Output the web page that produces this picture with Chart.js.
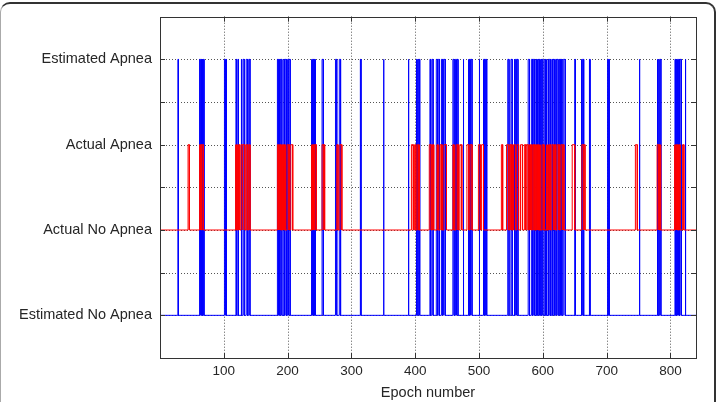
<!DOCTYPE html>
<html>
<head>
<meta charset="utf-8">
<script src="https://cdn.jsdelivr.net/npm/chart.js@4/dist/chart.umd.min.js"></script>
<style>
    html, body { margin: 0; padding: 0; background: #fff; }
    #wrap { position: relative; width: 717px; height: 402px; overflow: hidden; background: #fff; }
    #frame {
        position: absolute; left: 0; top: 2px; width: 713px; height: 440px;
        border-top: 2px solid #333; border-right: 2px solid #333; border-left: 1px solid #aaa;
        border-radius: 10px;
    }
    #apneaChart { position: absolute; left: 0; top: 0; }
</style>
</head>
<body>
<div id="wrap">
    <div id="frame"></div>
    <canvas id="apneaChart" width="717" height="402"></canvas>
</div>
<script>
/**
 * Estimated vs actual apnea per epoch
 */

// axis setup
const xMin = 0;
const xMax = 840;
const xTickValues = [100, 200, 300, 400, 500, 600, 700, 800];
const yTickValues = [1, 2, 3, 4, 5, 6, 7];
const levelValues = [1, 3, 5, 7];
const levelLabels = ['Estimated No Apnea', 'Actual No Apnea', 'Actual Apnea', 'Estimated Apnea'];
const xTitle = 'Epoch number';

// estimated signal: 1 = no apnea, 7 = apnea (epoch where each apnea run starts / ends)
const estLow = 1, estHigh = 7;
const estApneaStart = [28, 62, 64, 66, 68, 101, 103, 119, 122, 127, 130, 135, 139,
    184, 186, 189, 194, 196, 200, 202, 237, 239, 241, 243, 254, 275, 281, 314, 350, 389,
    402, 405, 423, 426, 433, 436, 441, 443, 445, 459, 463, 465, 475, 483, 485, 487, 500, 507, 510,
    545, 550, 555, 557, 559, 577, 582, 585, 589, 591, 593, 596, 598,
    603, 605, 608, 610, 614, 616, 620, 622, 626, 629, 632, 650, 660, 662, 673, 701, 703, 751,
    779, 781, 783, 807, 809, 811, 813, 815, 823];
const estApneaEnd = [29, 63, 65, 67, 69, 102, 104, 120, 123, 128, 132, 137, 141,
    185, 187, 191, 195, 198, 201, 204, 238, 240, 242, 244, 256, 277, 283, 315, 351, 390,
    403, 407, 424, 428, 435, 438, 442, 444, 447, 461, 464, 467, 476, 484, 486, 489, 501, 509, 512,
    547, 552, 556, 558, 561, 579, 584, 587, 590, 592, 595, 597, 600,
    604, 606, 609, 612, 615, 618, 621, 624, 628, 630, 635, 651, 661, 664, 674, 702, 704, 752,
    780, 782, 785, 808, 810, 812, 814, 817, 824];

// actual signal: 3 = no apnea, 5 = apnea
const actLow = 3, actHigh = 5;
const actApneaStart = [44, 62, 64, 66, 118, 120, 123, 127, 130, 135, 139,
    184, 186, 188, 190, 192, 194, 196, 199, 202, 205, 237, 239, 241, 243, 254, 257, 277, 282,
    394, 399, 403, 406, 422, 427, 434, 436, 439, 442, 445, 459, 461, 464, 467, 470, 481, 486, 499, 504, 535,
    543, 548, 551, 554, 559, 565, 571, 574, 579, 581, 584, 587, 590, 592, 594, 596, 599, 602,
    605, 607, 609, 611, 614, 617, 619, 622, 625, 628, 631, 646, 661, 664, 745,
    779, 782, 784, 806, 808, 810, 812, 814, 819];
const actApneaEnd = [46, 63, 65, 68, 119, 121, 125, 129, 133, 137, 141,
    185, 187, 189, 191, 193, 195, 197, 201, 203, 208, 238, 240, 242, 245, 256, 258, 279, 285,
    397, 401, 405, 407, 425, 429, 435, 437, 441, 443, 449, 460, 462, 466, 468, 473, 484, 489, 502, 507, 537,
    546, 550, 552, 557, 562, 568, 573, 577, 580, 582, 586, 588, 591, 593, 595, 597, 601, 603,
    606, 608, 610, 612, 616, 618, 620, 624, 626, 630, 633, 650, 663, 666, 748,
    781, 783, 785, 807, 809, 811, 813, 815, 821];

function pulseLine(starts, ends, lo, hi) {
    const pts = [{ x: xMin, y: lo }];
    starts.forEach((s, i) => {
        pts.push({ x: s, y: lo }, { x: s, y: hi }, { x: ends[i], y: hi }, { x: ends[i], y: lo });
    });
    pts.push({ x: xMax, y: lo });
    return pts;
}

const axisColor = '#333';
const textColor = '#262626';
const fontFamily = "'Liberation Sans', Arial, sans-serif";

// grid, box and inward tick marks, matlab style
const matlabAxes = {
    id: 'matlabAxes',
    beforeDatasetsDraw(chart) {
        const { ctx, chartArea: a, scales: { x, y } } = chart;
        ctx.save();
        ctx.strokeStyle = '#555';
        ctx.lineWidth = 1;
        ctx.setLineDash([1, 2]);
        xTickValues.forEach(v => {
            const px = Math.round(x.getPixelForValue(v)) + 0.5;
            ctx.beginPath(); ctx.moveTo(px, a.top); ctx.lineTo(px, a.bottom); ctx.stroke();
        });
        yTickValues.forEach(v => {
            const py = Math.round(y.getPixelForValue(v)) + 0.5;
            ctx.beginPath(); ctx.moveTo(a.left, py); ctx.lineTo(a.right, py); ctx.stroke();
        });
        ctx.restore();
    },
    afterDatasetsDraw(chart) {
        const { ctx, chartArea: a, scales: { x, y } } = chart;
        const t = 5;
        ctx.save();
        ctx.strokeStyle = axisColor;
        ctx.lineWidth = 1;
        ctx.strokeRect(Math.round(a.left) + 0.5, Math.round(a.top) + 0.5,
            Math.round(a.right - a.left), Math.round(a.bottom - a.top));
        ctx.beginPath();
        xTickValues.forEach(v => {
            const px = Math.round(x.getPixelForValue(v)) + 0.5;
            ctx.moveTo(px, a.bottom); ctx.lineTo(px, a.bottom - t);
            ctx.moveTo(px, a.top); ctx.lineTo(px, a.top + t);
        });
        yTickValues.forEach(v => {
            const py = Math.round(y.getPixelForValue(v)) + 0.5;
            ctx.moveTo(a.left, py); ctx.lineTo(a.left + t, py);
            ctx.moveTo(a.right, py); ctx.lineTo(a.right - t, py);
        });
        ctx.stroke();
        ctx.restore();
    }
};

new Chart(document.getElementById('apneaChart'), {
    type: 'line',
    data: {
        datasets: [{
            label: 'Actual',
            data: pulseLine(actApneaStart, actApneaEnd, actLow, actHigh),
            borderColor: '#ff0000',
            borderWidth: 1,
            pointRadius: 0,
            tension: 0,
            fill: false
        }, {
            label: 'Estimated',
            data: pulseLine(estApneaStart, estApneaEnd, estLow, estHigh),
            borderColor: '#0000ff',
            borderWidth: 1,
            pointRadius: 0,
            tension: 0,
            fill: false
        }]
    },
    options: {
        responsive: false,
        animation: false,
        events: [],
        layout: { autoPadding: false, padding: { left: 0, top: 16, right: 21, bottom: 0 } },
        plugins: {
            legend: { display: false },
            tooltip: { enabled: false }
        },
        scales: {
            x: {
                type: 'linear',
                min: xMin,
                max: xMax,
                afterBuildTicks: scale => { scale.ticks = xTickValues.map(v => ({ value: v })); },
                afterFit: scale => { scale.height = 44; },
                grid: { display: false, drawTicks: false },
                border: { display: false },
                ticks: {
                    padding: 5,
                    maxRotation: 0,
                    color: textColor,
                    font: { family: fontFamily, size: 13.5 }
                },
                title: {
                    display: true,
                    text: xTitle,
                    color: textColor,
                    padding: { top: 0, bottom: 0 },
                    font: { family: fontFamily, size: 14.5 }
                }
            },
            y: {
                type: 'linear',
                min: 0,
                max: 8,
                afterBuildTicks: scale => { scale.ticks = yTickValues.map(v => ({ value: v })); },
                afterFit: scale => { scale.width = 160; },
                grid: { display: false, drawTicks: false },
                border: { display: false },
                ticks: {
                    padding: 8,
                    color: textColor,
                    font: { family: fontFamily, size: 14.5 },
                    callback: v => {
                        const i = levelValues.indexOf(v);
                        return i >= 0 ? levelLabels[i] : '';
                    }
                }
            }
        }
    },
    plugins: [matlabAxes]
});
</script>
</body>
</html>
